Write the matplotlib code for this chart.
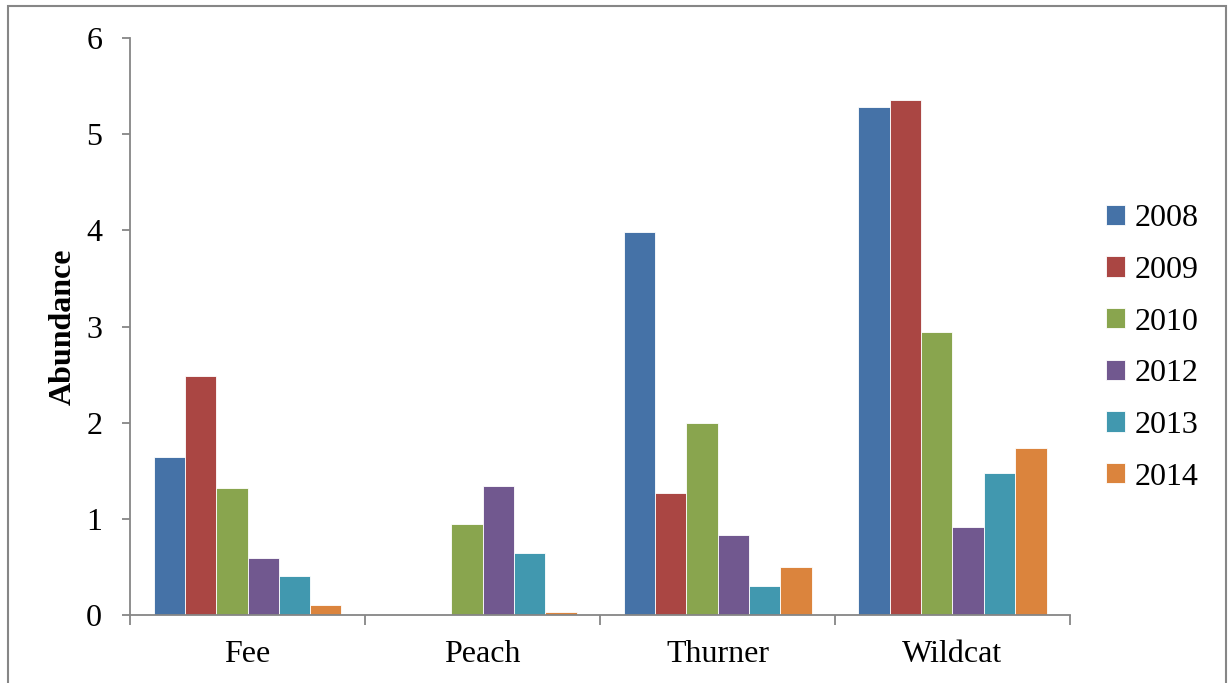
import numpy as np
import matplotlib.pyplot as plt
from matplotlib.patches import Rectangle
from matplotlib.ticker import FixedLocator, NullFormatter

plt.rcParams['font.family'] = ['Liberation Serif', 'DejaVu Serif']

sites = ['Fee', 'Peach', 'Thurner', 'Wildcat']
years = ['2008', '2009', '2010', '2012', '2013', '2014']
colors = ['#4572A7', '#AA4643', '#89A54E', '#71588F', '#4198AF', '#DB843D']

# abundance per year, one value per site
ab_2008 = [1.64, 0.0, 3.98, 5.28]
ab_2009 = [2.49, 0.0, 1.27, 5.36]
ab_2010 = [1.32, 0.95, 2.00, 2.94]
ab_2012 = [0.59, 1.34, 0.83, 0.91]
ab_2013 = [0.41, 0.64, 0.30, 1.48]
ab_2014 = [0.10, 0.03, 0.50, 1.74]
series = [ab_2008, ab_2009, ab_2010, ab_2012, ab_2013, ab_2014]

fig = plt.figure(figsize=(12.3, 6.83), dpi=100)
ax = fig.add_axes([130 / 1230, 68 / 683, 940 / 1230, 577 / 683])

x = np.arange(len(sites))
group_w = 0.8
bar_w = group_w / len(series)
for i, (vals, yr, c) in enumerate(zip(series, years, colors)):
    offs = -group_w / 2 + bar_w * (i + 0.5)
    ax.bar(x + offs, vals, bar_w, color=c, edgecolor='white', linewidth=0.6, label=yr)

ax.set_xlim(-0.5, len(sites) - 0.5)
ax.set_ylim(0, 6)
ax.set_yticks(range(0, 7))

axis_gray = '#868686'
for side in ['top', 'right']:
    ax.spines[side].set_visible(False)
for side in ['left', 'bottom']:
    ax.spines[side].set_color(axis_gray)
    ax.spines[side].set_linewidth(1.3)

# category labels centred, tick marks between categories
ax.set_xticks(x)
ax.set_xticklabels(sites)
ax.xaxis.set_minor_locator(FixedLocator(np.arange(-0.5, len(sites), 1.0)))
ax.xaxis.set_minor_formatter(NullFormatter())
ax.tick_params(axis='x', which='major', length=0, labelsize=23, pad=18)
ax.tick_params(axis='x', which='minor', length=7, color=axis_gray, width=1.3, direction='out')
ax.tick_params(axis='y', length=6, color=axis_gray, width=1.3, labelsize=23, pad=14)

ax.set_ylabel('Abundance', fontsize=23, fontweight='bold', labelpad=6)

leg = ax.legend(loc='center left', bbox_to_anchor=(1.008, 0.463), frameon=False,
                fontsize=23, handlelength=0.6, handleheight=0.6,
                handletextpad=0.3, labelspacing=0.71)

# outer chart frame
fig.patches.append(Rectangle((8 / 1230, -0.02), 1218 / 1230, 1.02 - 6 / 683,
                             transform=fig.transFigure, fill=False,
                             edgecolor=axis_gray, linewidth=1.5))

fig.savefig('out.png', dpi=100)
